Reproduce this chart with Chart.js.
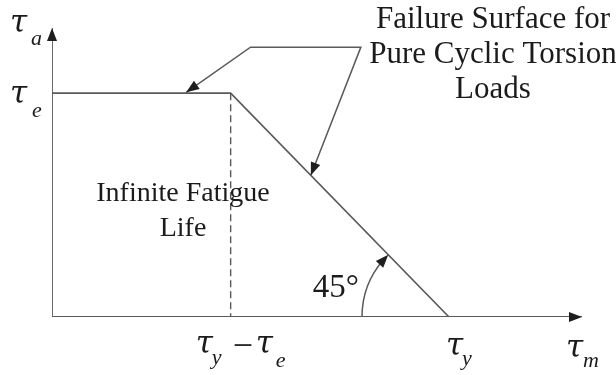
<!DOCTYPE html>
<html>
<head>
<meta charset="utf-8">
<script src="https://cdn.jsdelivr.net/npm/chart.js@4.4.1/dist/chart.umd.min.js"></script>
<style>
  body { margin: 0; background: #fff; }
  #wrap { width: 616px; height: 375px; position: relative; }
</style>
</head>
<body>
<div id="wrap"><canvas id="torsionChart"></canvas></div>
<script>
// Shear stress values (normalised so that tau_y = 1)
const tauY = 1.0;
const tauE = 0.55;
const axisMax = [1.335, 0.71];   // x (tau_m) and y (tau_a) ends of the axes

// Failure surface: flat at tau_e, then 45 deg down to tau_y
const surfaceX = [0, tauY - tauE, tauY];
const surfaceY = [tauE, tauE, 0];

// Dashed guide under the corner
const guideX = [tauY - tauE, tauY - tauE];
const guideY = [tauE, 0];

// Callout leader: tip on flat part -> bend -> bend -> tip on sloped part
const calloutX = [0.338, 0.50, 0.778, 0.652];
const calloutY = [0.552, 0.663, 0.663, 0.348];

const titleLines = ['Failure Surface for', 'Pure Cyclic Torsion', 'Loads'];
const regionLines = ['Infinite Fatigue', 'Life'];
const angleLabel = '45°';

function pts(xs, ys) {
    return xs.map((x, i) => ({ x: x, y: ys[i] }));
}

const lineColor = '#5a5a5a';
const inkColor = '#1b1b1b';

function arrowHead(ctx, x, y, angle, len, half) {
    ctx.save();
    ctx.translate(x, y);
    ctx.rotate(angle);
    ctx.beginPath();
    ctx.moveTo(0, 0);
    ctx.lineTo(-len, -half);
    ctx.lineTo(-len, half);
    ctx.closePath();
    ctx.fillStyle = '#1e1e1e';
    ctx.fill();
    ctx.restore();
}

// tau with an italic subscript, x/y = baseline start of the tau
function drawTau(ctx, x, y, sub, subDx, subDy) {
    ctx.fillStyle = inkColor;
    ctx.textAlign = 'left';
    ctx.textBaseline = 'alphabetic';
    ctx.font = 'italic 31px "DejaVu Serif"';
    ctx.fillText('τ', x, y);
    ctx.font = 'italic 22px "Liberation Serif"';
    ctx.fillText(sub, x + subDx, y + subDy);
}

const decorPlugin = {
    id: 'decor',
    afterDatasetsDraw(chart) {
        const ctx = chart.ctx;
        const xs = chart.scales.x, ys = chart.scales.y;
        const x0 = xs.getPixelForValue(0), y0 = ys.getPixelForValue(0);
        const xEnd = xs.getPixelForValue(axisMax[0]);
        const yEnd = ys.getPixelForValue(axisMax[1]);

        // axis arrows
        arrowHead(ctx, xEnd, y0, 0, 13, 5);
        arrowHead(ctx, x0, yEnd, -Math.PI / 2, 13, 5);

        // callout arrows at both ends of the leader
        const cp = calloutX.map((v, i) => [xs.getPixelForValue(v), ys.getPixelForValue(calloutY[i])]);
        const n = cp.length;
        arrowHead(ctx, cp[0][0], cp[0][1], Math.atan2(cp[0][1] - cp[1][1], cp[0][0] - cp[1][0]), 13, 5);
        arrowHead(ctx, cp[n - 1][0], cp[n - 1][1], Math.atan2(cp[n - 1][1] - cp[n - 2][1], cp[n - 1][0] - cp[n - 2][0]), 13, 5);

        // 45 degree arc at tau_y
        const cx = xs.getPixelForValue(tauY);
        const cornerX = xs.getPixelForValue(tauY - tauE), cornerY = ys.getPixelForValue(tauE);
        const endAng = Math.atan2(cornerY - y0, cornerX - cx) + 2 * Math.PI;
        const r = 87;
        ctx.save();
        ctx.strokeStyle = lineColor;
        ctx.lineWidth = 1.5;
        ctx.beginPath();
        ctx.arc(cx, y0, r, Math.PI, endAng - 0.08);
        ctx.stroke();
        ctx.restore();
        const ax = cx + r * Math.cos(endAng), ay = y0 + r * Math.sin(endAng);
        arrowHead(ctx, ax, ay, endAng + Math.PI / 2 - 0.06, 13, 5);

        ctx.save();
        ctx.fillStyle = inkColor;
        ctx.textBaseline = 'alphabetic';

        // callout title
        ctx.font = '31px "Liberation Serif"';
        ctx.textAlign = 'center';
        titleLines.forEach((t, i) => ctx.fillText(t, 493, 28 + i * 35));

        // region label
        ctx.font = '28px "Liberation Serif"';
        regionLines.forEach((t, i) => ctx.fillText(t, 183, 201 + i * 35));

        // angle label
        ctx.font = '33px "Liberation Serif"';
        ctx.textAlign = 'right';
        ctx.fillText(angleLabel, cx - 90, y0 - 20);

        // axis symbols
        drawTau(ctx, 10, 32, 'a', 21, 13);
        drawTau(ctx, 10, 103, 'e', 22, 14);
        const midX = xs.getPixelForValue(tauY - tauE);
        drawTau(ctx, midX - 35, 353, 'y', 16, 11);
        ctx.font = '36px "Liberation Serif"';
        ctx.textAlign = 'left';
        ctx.fillText('−', midX + 2, 357);
        drawTau(ctx, midX + 25, 353, 'e', 20, 14);
        drawTau(ctx, cx - 3, 355, 'y', 16, 10);
        drawTau(ctx, xEnd - 16, 357, 'm', 17, 10);
        ctx.restore();
    }
};

new Chart(document.getElementById('torsionChart'), {
    type: 'scatter',
    data: {
        datasets: [
            {
                data: pts([0, 0, axisMax[0]], [axisMax[1], 0, 0]),
                borderColor: lineColor, borderWidth: 1.8
            },
            {
                data: pts(surfaceX, surfaceY),
                borderColor: lineColor, borderWidth: 1.6
            },
            {
                data: pts(guideX, guideY),
                borderColor: lineColor, borderWidth: 1.4, borderDash: [7, 4]
            },
            {
                data: pts(calloutX, calloutY),
                borderColor: lineColor, borderWidth: 1.5
            }
        ]
    },
    options: {
        responsive: true,
        maintainAspectRatio: false,
        animation: false,
        showLine: true,
        elements: { point: { radius: 0, hoverRadius: 0 }, line: { tension: 0 } },
        layout: { padding: { left: 52, right: 34, top: 28, bottom: 58 } },
        plugins: { legend: { display: false }, tooltip: { enabled: false } },
        scales: {
            x: { type: 'linear', display: false, min: 0, max: axisMax[0] },
            y: { type: 'linear', display: false, min: 0, max: axisMax[1] }
        }
    },
    plugins: [decorPlugin]
});
</script>
</body>
</html>
